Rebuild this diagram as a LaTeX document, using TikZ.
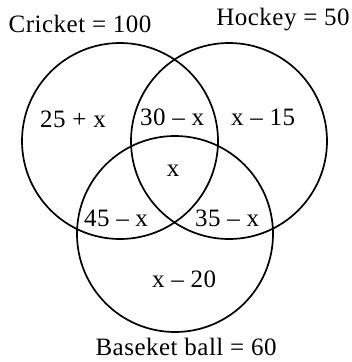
\documentclass[tikz,border=0pt]{standalone}
\usepackage{fontspec}
\setmainfont{Liberation Serif}[LetterSpace=2]
\usetikzlibrary{positioning}

\begin{document}
\begin{tikzpicture}[x=1pt, y=-1pt, every node/.style={font=\fontsize{25}{29}\selectfont, inner sep=0pt},
    set/.style={circle, draw, line width=1.7pt, minimum size=196pt}]
    \useasboundingbox (0,0) rectangle (352,362);

    % the three sets
    \node[set] (cricket) at (120,141) {};
    \node[set] (hockey) at (229,141) {};
    \node[set] (basket) at (175,234) {};

    % set names
    \node (lcricket) at (80,24) {Cricket = 100};
    \node (lhockey) at (283,20) {Hockey = 50};
    \node (lbasket) at (186,347) {Baseket ball = 60};

    % regions
    \node (onlyc) at (73,119) {25 + x};
    \node (ch) at (172,117) {30 – x};
    \node (onlyh) at (263,117) {x – 15};
    \node (chb) at (173,171) {x};
    \node (cb) at (116,218) {45 – x};
    \node (hb) at (227,218) {35 – x};
    \node (onlyb) at (184,279) {x – 20};
\end{tikzpicture}
\end{document}
